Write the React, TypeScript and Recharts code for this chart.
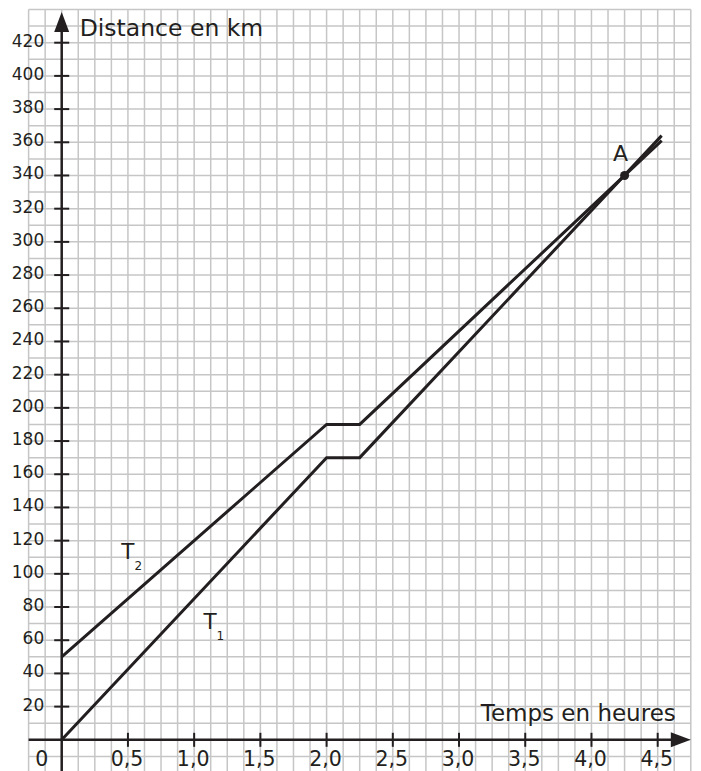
import React from "react";
import {
  LineChart,
  Line,
  XAxis,
  YAxis,
  CartesianGrid,
  ReferenceLine,
  ReferenceDot,
} from "recharts";

// trajectories (time in hours, distance in km)
const hoursT1 = [0, 2, 2.25, 4.53];
const kmT1 = [0, 170, 170, 364];
const hoursT2 = [0, 2, 2.25, 4.53];
const kmT2 = [50, 190, 190, 361];

// crossing point A
const pointA = { t: 4.25, d: 340 };

const xTicks = [0.5, 1, 1.5, 2, 2.5, 3, 3.5, 4, 4.5];
const yTicks = [20, 40, 60, 80, 100, 120, 140, 160, 180, 200, 220, 240, 260, 280, 300, 320, 340, 360, 380, 400, 420];

// squared paper: 0.125 h by 10 km
const xGrid = Array.from({ length: 41 }, (_, i) => -0.25 + i * 0.125);
const yGrid = Array.from({ length: 47 }, (_, i) => -20 + i * 10);

const INK = "#231f20";
const FONT = "DejaVu Sans";

const t1Data = hoursT1.map((t, i) => ({ t, d: kmT1[i] }));
const t2Data = hoursT2.map((t, i) => ({ t, d: kmT2[i] }));

const fmt = (v: number) => v.toFixed(1).replace(".", ",");

const XTick = (p: any) => (
  <g>
    <line x1={p.cx} y1={p.cy - 7} x2={p.cx} y2={p.cy + 7} stroke={INK} strokeWidth={2} />
    <text x={p.cx - 1} y={p.cy + 26.5} textAnchor="middle" fontSize={20.5} fontFamily={FONT} fill={INK}>
      {p.label}
    </text>
  </g>
);

const YTick = (p: any) => (
  <g>
    <line x1={p.cx - 7.5} y1={p.cy} x2={p.cx + 7.5} y2={p.cy} stroke={INK} strokeWidth={2} />
    <text x={p.cx - 17.5} y={p.cy + 4} textAnchor="end" fontSize={17} fontFamily={FONT} fill={INK}>
      {p.label}
    </text>
  </g>
);

export default function App() {
  return (
    <div
      style={{
        position: "absolute",
        left: 0,
        top: 0,
        width: 701,
        height: 771,
        overflow: "hidden",
        background: "#fff",
      }}
    >
      <LineChart
        width={701}
        height={773}
        margin={{ top: 9.5, right: 10.2, bottom: 0, left: 28.6 }}
      >
        <CartesianGrid stroke="#c6c6c6" strokeWidth={1.5} />
        <XAxis
          type="number"
          dataKey="t"
          domain={[-0.25, 4.75]}
          ticks={xGrid}
          interval={0}
          allowDataOverflow
          hide
        />
        <YAxis
          type="number"
          dataKey="d"
          domain={[-20, 440]}
          ticks={yGrid}
          interval={0}
          allowDataOverflow
          hide
        />

        {/* axes */}
        <ReferenceLine
          segment={[{ x: -0.25, y: 0 }, { x: 4.65, y: 0 }]}
          stroke={INK}
          strokeWidth={2.5}
          ifOverflow="visible"
        />
        <ReferenceLine
          segment={[{ x: 0, y: -20 }, { x: 0, y: 430 }]}
          stroke={INK}
          strokeWidth={2.5}
          ifOverflow="visible"
        />
        <ReferenceDot
          x={4.75}
          y={0}
          ifOverflow="visible"
          shape={(p: any) => (
            <polygon
              points={`${p.cx},${p.cy} ${p.cx - 20},${p.cy - 7.5} ${p.cx - 20},${p.cy + 7.5}`}
              fill={INK}
            />
          )}
        />
        <ReferenceDot
          x={0}
          y={438.5}
          ifOverflow="visible"
          shape={(p: any) => (
            <polygon
              points={`${p.cx},${p.cy} ${p.cx - 7.5},${p.cy + 20} ${p.cx + 7.5},${p.cy + 20}`}
              fill={INK}
            />
          )}
        />

        {xTicks.map((v) => (
          <ReferenceDot
            key={"x" + v}
            x={v}
            y={0}
            ifOverflow="visible"
            shape={(p: any) => <XTick {...p} label={fmt(v)} />}
          />
        ))}
        {yTicks.map((v) => (
          <ReferenceDot
            key={"y" + v}
            x={0}
            y={v}
            ifOverflow="visible"
            shape={(p: any) => <YTick {...p} label={String(v)} />}
          />
        ))}
        <ReferenceDot
          x={0}
          y={0}
          ifOverflow="visible"
          shape={(p: any) => (
            <text x={p.cx - 20} y={p.cy + 26.5} textAnchor="middle" fontSize={20.5} fontFamily={FONT} fill={INK}>
              0
            </text>
          )}
        />

        {/* axis titles */}
        <ReferenceDot
          x={0}
          y={424}
          ifOverflow="visible"
          shape={(p: any) => (
            <text x={p.cx + 18} y={p.cy} fontSize={23.5} fontFamily={FONT} fill={INK}>
              Distance en km
            </text>
          )}
        />
        <ReferenceDot
          x={4.75}
          y={0}
          ifOverflow="visible"
          shape={(p: any) => (
            <text x={p.cx - 15} y={p.cy - 19} textAnchor="end" fontSize={23} fontFamily={FONT} fill={INK}>
              Temps en heures
            </text>
          )}
        />

        <Line
          data={t1Data}
          dataKey="d"
          type="linear"
          stroke={INK}
          strokeWidth={3}
          dot={false}
          isAnimationActive={false}
        />
        <Line
          data={t2Data}
          dataKey="d"
          type="linear"
          stroke={INK}
          strokeWidth={3}
          dot={false}
          isAnimationActive={false}
        />

        {/* series labels */}
        <ReferenceDot
          x={1.07}
          y={67}
          ifOverflow="visible"
          shape={(p: any) => (
            <text x={p.cx} y={p.cy} fontSize={21.5} fontFamily={FONT} fill={INK}>
              T
              <tspan fontSize={12} dy={11}>1</tspan>
            </text>
          )}
        />
        <ReferenceDot
          x={0.45}
          y={109}
          ifOverflow="visible"
          shape={(p: any) => (
            <text x={p.cx} y={p.cy} fontSize={21.5} fontFamily={FONT} fill={INK}>
              T
              <tspan fontSize={12} dy={11.5}>2</tspan>
            </text>
          )}
        />

        <ReferenceDot
          x={pointA.t}
          y={pointA.d}
          r={4.5}
          fill={INK}
          stroke="none"
          ifOverflow="visible"
          label={{
            value: "A",
            position: "top",
            offset: 10,
            dx: -4,
            fontSize: 22,
            fontFamily: FONT,
            fill: INK,
          }}
        />
      </LineChart>
    </div>
  );
}
